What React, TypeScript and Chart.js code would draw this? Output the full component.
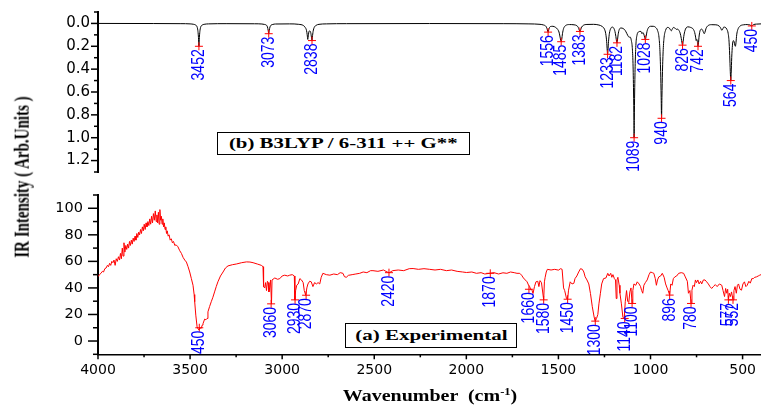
import React, { useEffect, useRef } from "react";
import { Chart, registerables } from "chart.js";

Chart.register(...registerables);

// ---------- DATA ----------
// Calculated (B3LYP) spectrum: [wavenumber, intensity]
const calcSpectrum: [number, number][] = [
  [4000, 0], [3700, 0.001], [3550, 0.002], [3500, 0.004],
  [3480, 0.008], [3470, 0.014], [3462, 0.03], [3458, 0.06], [3455, 0.11], [3453, 0.17], [3452, 0.2], [3451, 0.17], [3449, 0.11], [3446, 0.06], [3442, 0.03], [3434, 0.014], [3424, 0.008], [3400, 0.004],
  [3300, 0.002], [3150, 0.003],
  [3110, 0.005], [3095, 0.009], [3085, 0.016], [3080, 0.03], [3076, 0.06], [3073, 0.09], [3070, 0.06], [3066, 0.03], [3061, 0.016], [3051, 0.009], [3036, 0.005],
  [2960, 0.004], [2910, 0.008],
  [2885, 0.018], [2875, 0.035], [2868, 0.06], [2864, 0.1], [2861, 0.14], [2859, 0.12], [2855, 0.075], [2850, 0.065], [2845, 0.08], [2841, 0.12], [2838, 0.15], [2836, 0.12], [2832, 0.07], [2826, 0.035], [2816, 0.017], [2800, 0.008], [2760, 0.004],
  [2650, 0.002], [2200, 0.001], [1800, 0.002], [1660, 0.004],
  [1600, 0.008], [1580, 0.014], [1568, 0.025], [1562, 0.045], [1558, 0.068], [1556, 0.076], [1554, 0.066], [1550, 0.042], [1543, 0.027], [1530, 0.025],
  [1515, 0.035], [1505, 0.05], [1497, 0.075], [1492, 0.11], [1488, 0.145], [1485, 0.16], [1482, 0.14], [1478, 0.09], [1472, 0.045], [1462, 0.02], [1440, 0.01],
  [1415, 0.012], [1400, 0.02], [1392, 0.035], [1387, 0.057], [1383, 0.07], [1379, 0.055], [1374, 0.033], [1365, 0.017], [1345, 0.009], [1310, 0.008],
  [1280, 0.014], [1262, 0.027], [1250, 0.05], [1243, 0.09], [1238, 0.16], [1235, 0.235], [1233, 0.27], [1231, 0.235], [1228, 0.16], [1223, 0.085], [1216, 0.045], [1208, 0.032],
  [1200, 0.04], [1193, 0.07], [1188, 0.115], [1184, 0.16], [1182, 0.17], [1180, 0.155], [1176, 0.1], [1170, 0.055], [1160, 0.04],
  [1148, 0.045], [1138, 0.06], [1128, 0.09], [1120, 0.115], [1115, 0.12], [1110, 0.12], [1104, 0.15], [1099, 0.21], [1095, 0.35], [1092, 0.6], [1090, 0.85], [1089, 1.0], [1088, 0.85], [1086, 0.6], [1083, 0.35], [1079, 0.18], [1073, 0.1], [1066, 0.075],
  [1058, 0.07], [1052, 0.07], [1046, 0.09], [1042, 0.08], [1037, 0.09], [1032, 0.12], [1028, 0.14], [1024, 0.115], [1019, 0.07], [1012, 0.04], [1000, 0.025],
  [985, 0.025], [972, 0.035], [962, 0.06], [954, 0.12], [949, 0.23], [945, 0.42], [942, 0.65], [940, 0.83], [938, 0.65], [935, 0.42], [931, 0.23], [926, 0.12], [918, 0.06], [908, 0.035],
  [898, 0.04], [892, 0.055], [887, 0.065], [882, 0.05], [875, 0.035], [868, 0.04], [862, 0.05], [858, 0.052], [853, 0.05], [846, 0.06],
  [839, 0.085], [833, 0.13], [829, 0.17], [826, 0.19], [823, 0.16], [818, 0.1], [810, 0.05], [797, 0.03],
  [782, 0.035], [768, 0.05], [760, 0.08], [755, 0.12], [752, 0.15], [749, 0.14], [746, 0.15], [744, 0.185], [742, 0.2], [740, 0.18], [736, 0.11], [730, 0.06], [722, 0.05],
  [716, 0.062], [712, 0.08], [708, 0.09], [704, 0.075], [698, 0.042], [688, 0.02], [670, 0.011], [645, 0.012],
  [628, 0.022], [620, 0.037], [615, 0.055], [612, 0.06], [608, 0.05], [602, 0.032], [594, 0.034],
  [586, 0.05], [578, 0.09], [573, 0.17], [569, 0.32], [566, 0.45], [564, 0.5], [562, 0.44], [559, 0.3], [555, 0.19], [550, 0.15],
  [546, 0.16], [542, 0.19], [539, 0.2], [536, 0.17], [532, 0.1], [526, 0.055], [515, 0.025], [495, 0.012], [475, 0.01],
  [462, 0.012], [455, 0.018], [450, 0.022], [446, 0.017], [440, 0.01], [425, 0.006], [400, 0.004],
];

// Experimental FT-IR spectrum: [wavenumber, intensity]
const expSpectrum: [number, number][] = [
  [4000, 48.5], [3992, 50], [3984, 51], [3976, 52.5], [3970, 52], [3963, 54.5], [3956, 55], [3949, 57], [3943, 56], [3937, 58.5], [3931, 57], [3925, 60], [3919, 59], [3913, 61], [3907, 57], [3901, 62], [3895, 60], [3889, 63.5], [3883, 61], [3878, 66], [3873, 62], [3868, 70], [3864, 64], [3859, 74], [3854, 67], [3849, 72], [3844, 69], [3839, 73], [3834, 70], [3829, 75], [3824, 72], [3819, 76], [3814, 73], [3809, 77.5], [3804, 75], [3799, 79], [3794, 76], [3789, 81], [3784, 78], [3779, 82], [3774, 80], [3769, 84], [3764, 81], [3759, 86], [3754, 83], [3749, 88], [3744, 84], [3739, 89], [3734, 86], [3729, 90], [3724, 87], [3719, 92], [3714, 88], [3709, 94], [3704, 89], [3699, 96], [3694, 91], [3689, 98], [3684, 90], [3680, 95], [3676, 89], [3672, 97], [3668, 88], [3664, 99], [3660, 91], [3656, 94], [3652, 88], [3648, 92], [3644, 86], [3640, 89], [3636, 84], [3632, 86], [3628, 81], [3624, 83], [3619, 79], [3614, 80], [3608, 76], [3602, 77], [3596, 74], [3590, 75], [3583, 72], [3576, 72.5], [3566, 71], [3556, 68], [3547, 66], [3538, 63], [3529, 61], [3520, 59.5], [3511, 56], [3502, 52], [3493, 47], [3484, 42], [3478, 35], [3475, 29.6], [3469, 19.5], [3462, 10.7], [3456, 9], [3452, 8.5], [3447, 10], [3440, 9.5], [3434, 12], [3430, 13], [3421, 16.5], [3414, 16], [3408, 17], [3403, 22], [3394, 26], [3385, 29.6], [3376, 33], [3367, 37], [3358, 41], [3349, 44.6], [3335, 49], [3321, 52], [3308, 55], [3294, 56.6], [3270, 57.5], [3249, 58], [3220, 59], [3194, 59.6], [3175, 59.5], [3158, 59], [3135, 58], [3113, 57], [3104, 56],
  [3101, 41], [3095, 40], [3090, 44], [3085, 38], [3080, 45], [3076, 44], [3072, 37], [3068, 40], [3063, 46], [3058, 28], [3055, 46], [3050, 46], [3040, 47.5], [3025, 46.5], [3013, 47], [3000, 49], [2986, 49.6], [2970, 49], [2959, 49.6], [2945, 50], [2934, 49],
  [2931, 31], [2927, 38], [2921, 42], [2913, 43], [2904, 47], [2895, 46], [2886, 44], [2880, 38], [2872, 34.5], [2866, 40], [2860, 43], [2851, 45], [2842, 44.6], [2833, 41], [2824, 44], [2814, 43], [2805, 44], [2796, 43], [2788, 48], [2779, 51],
  [2760, 50], [2741, 49.6], [2720, 50.5], [2700, 50], [2685, 51.5], [2670, 51], [2662, 48.5], [2652, 48], [2640, 49.5], [2620, 50], [2600, 50.5], [2579, 51], [2560, 52], [2540, 51.5], [2520, 53], [2507, 53], [2480, 52.5], [2450, 53.5], [2430, 52], [2418, 51.5], [2400, 53], [2370, 53.5], [2340, 53], [2310, 54.5], [2289, 54.6], [2260, 54], [2230, 54.5], [2199, 54], [2170, 53.5], [2140, 54], [2108, 53], [2080, 53.5], [2050, 52.5], [2020, 52], [1999, 51.6], [1970, 52], [1945, 51], [1920, 51.5], [1900, 50.5], [1874, 51], [1850, 51.5], [1825, 50.5], [1801, 51.4], [1780, 51], [1760, 52], [1740, 51.5], [1725, 51], [1710, 51],
  [1700, 49.6], [1690, 47.5], [1680, 46], [1670, 44.6], [1662, 42], [1656, 41], [1650, 38.5], [1645, 39], [1638, 35.8], [1630, 41], [1622, 44.6], [1612, 45], [1606, 41], [1600, 45.5], [1592, 44], [1580, 31], [1576, 44.6], [1572, 48], [1566, 52], [1560, 54],
  [1540, 53.5], [1520, 54], [1500, 53.4], [1488, 54.5], [1480, 54], [1472, 40], [1466, 38], [1456, 32], [1450, 31.5], [1445, 38.3], [1436, 44.6], [1426, 43], [1416, 43.5], [1410, 47], [1400, 49], [1390, 52], [1380, 54.5], [1370, 54], [1362, 52], [1355, 48.4], [1345, 46], [1335, 43], [1326, 35.8], [1316, 25.8], [1306, 18], [1300, 15], [1293, 17], [1286, 20], [1280, 28], [1272, 36], [1265, 43], [1255, 47], [1242, 47.5], [1232, 51], [1225, 49], [1216, 51], [1210, 48], [1204, 50], [1196, 47], [1190, 46], [1186, 32], [1182, 46], [1177, 48], [1170, 42], [1166, 36], [1158, 28], [1150, 18], [1143, 17], [1137, 29.6], [1130, 38], [1124, 30], [1118, 29], [1112, 37], [1106, 40], [1100, 28.3], [1096, 38], [1090, 43], [1080, 42], [1072, 44.6], [1062, 43], [1054, 41], [1048, 38], [1042, 36], [1036, 42], [1028, 44], [1018, 46], [1008, 50], [1000, 52],
  [990, 51.5], [982, 51], [974, 47], [968, 42], [962, 46], [955, 48.3], [945, 49], [936, 51], [926, 48], [918, 43], [910, 40], [904, 38], [896, 34.6], [890, 43], [883, 42], [876, 47], [868, 48.3], [858, 49], [847, 51], [833, 51.5], [820, 51], [811, 48.3], [800, 45], [794, 36], [786, 38], [780, 28.3], [775, 38.3], [769, 42], [762, 41], [756, 46], [750, 44], [743, 46], [736, 43], [728, 45], [722, 43], [713, 46], [704, 46], [695, 44.6], [686, 43], [677, 41], [668, 39.6], [659, 41], [648, 42.5], [638, 41], [626, 43], [613, 42], [606, 38], [598, 33.5], [592, 39.6], [586, 36], [581, 39], [577, 31], [572, 36], [566, 33.5], [560, 37], [552, 31], [547, 38], [541, 41], [534, 36], [528, 42], [522, 43], [514, 39], [506, 38.3], [498, 43], [490, 44.6], [482, 41], [475, 42], [466, 45], [458, 43.6], [450, 47], [442, 47], [434, 48], [425, 48.3], [415, 49], [407, 49.6], [400, 50],
];

// Peak annotations: [wavenumber, intensity at marker]
const calcPeaks: [number, number][] = [
  [3452, 0.2], [3073, 0.09], [2838, 0.15], [1556, 0.076], [1485, 0.16], [1383, 0.07], [1233, 0.27], [1182, 0.17],
  [1089, 1.0], [1028, 0.14], [940, 0.83], [826, 0.19], [742, 0.2], [564, 0.5], [450, 0.022],
];
const expPeaks: [number, number][] = [
  [3450, 10], [3060, 28], [2930, 31], [2870, 34.5], [2420, 51.5], [1870, 51], [1660, 39], [1580, 31], [1450, 31.5],
  [1300, 15], [1140, 17], [1100, 28.3], [896, 34.6], [780, 28.3], [577, 31], [552, 31],
];

// Axis ticks
const xMajorTicks = [4000, 3500, 3000, 2500, 2000, 1500, 1000, 500];
const xMinorTicks = [3750, 3250, 2750, 2250, 1750, 1250, 750];
const calcMajorTicks = [0, 0.2, 0.4, 0.6, 0.8, 1.0, 1.2];
const calcMinorTicks = [-0.1, 0.1, 0.3, 0.5, 0.7, 0.9, 1.1, 1.3];
const expMajorTicks = [0, 20, 40, 60, 80, 100];
const expMinorTicks = [-10, 10, 30, 50, 70, 90, 110];

// ---------- PLUGINS ----------
type TickSpec = { values: number[]; len: number };

function makeTickPlugin(id: string, ySpecs: TickSpec[], xSpecs: TickSpec[]) {
  return {
    id,
    afterDraw(chart: any) {
      const { ctx, chartArea } = chart;
      ctx.save();
      ctx.strokeStyle = "#000";
      ctx.lineWidth = 1.5;
      const ys = chart.scales.y;
      for (const spec of ySpecs) {
        for (const v of spec.values) {
          const py = ys.getPixelForValue(v);
          ctx.beginPath();
          ctx.moveTo(chartArea.left, py);
          ctx.lineTo(chartArea.left - spec.len, py);
          ctx.stroke();
        }
      }
      const xs = chart.scales.x;
      for (const spec of xSpecs) {
        for (const v of spec.values) {
          const px = xs.getPixelForValue(v);
          ctx.beginPath();
          ctx.moveTo(px, chartArea.bottom);
          ctx.lineTo(px, chartArea.bottom + spec.len);
          ctx.stroke();
        }
      }
      ctx.restore();
    },
  };
}

function makePeakPlugin(id: string, items: [number, number][]) {
  return {
    id,
    afterDatasetsDraw(chart: any) {
      const { ctx, chartArea: a } = chart;
      const xs = chart.scales.x;
      const ys = chart.scales.y;
      ctx.save();
      ctx.beginPath();
      ctx.rect(a.left, a.top, a.right - a.left, a.bottom - a.top);
      ctx.clip();
      for (const [w, v] of items) {
        const px = xs.getPixelForValue(w);
        const py = ys.getPixelForValue(v);
        ctx.strokeStyle = "#ff0000";
        ctx.lineWidth = 1;
        ctx.beginPath();
        ctx.moveTo(px - 4, py);
        ctx.lineTo(px + 4, py);
        ctx.moveTo(px, py - 4);
        ctx.lineTo(px, py + 4);
        ctx.stroke();
        ctx.save();
        ctx.translate(px, py + 3);
        ctx.rotate(-Math.PI / 2);
        ctx.scale(1, 1.3);
        ctx.font = '14px "Liberation Sans", Arial, sans-serif';
        ctx.fillStyle = "#0000ff";
        ctx.textAlign = "right";
        ctx.textBaseline = "middle";
        ctx.fillText(String(w), 0, 0);
        ctx.restore();
      }
      ctx.restore();
    },
  };
}

const fitY = (s: any) => {
  s.width = 98;
  s.paddingTop = 0;
  s.paddingBottom = 0;
};

// ---------- COMPONENT ----------
export default function App() {
  const topRef = useRef<HTMLCanvasElement>(null);
  const botRef = useRef<HTMLCanvasElement>(null);

  useEffect(() => {
    document.body.style.margin = "0";
    if (!topRef.current || !botRef.current) return;

    const topChart = new Chart(topRef.current, {
      type: "line",
      data: {
        datasets: [
          {
            data: calcSpectrum.map(([x, y]) => ({ x, y })),
            borderColor: "#000000",
            borderWidth: 1,
            pointRadius: 0,
            fill: false,
            cubicInterpolationMode: "monotone",
          },
        ],
      },
      options: {
        animation: false,
        responsive: false,
        events: [],
        layout: { padding: { top: 12, bottom: 8, left: 0, right: 0 } },
        plugins: { legend: { display: false }, tooltip: { enabled: false } },
        scales: {
          x: { type: "linear", position: "bottom", min: 400, max: 4000, reverse: true, display: false },
          y: {
            type: "linear",
            position: "left",
            min: -0.1,
            max: 1.3,
            reverse: true,
            afterFit: fitY,
            afterBuildTicks: (s: any) => {
              s.ticks = calcMajorTicks.map((v) => ({ value: v }));
            },
            ticks: {
              color: "#000",
              padding: 8,
              font: { family: "DejaVu Sans", size: 15 },
              callback: (v: any) => Number(v).toFixed(1),
            },
            grid: { display: false, drawTicks: false, tickLength: 0 },
            border: { display: true, color: "#000", width: 2 },
          },
        },
      },
      plugins: [
        makeTickPlugin("topTicks", [{ values: calcMajorTicks, len: 7 }, { values: calcMinorTicks, len: 4 }], []),
        makePeakPlugin("topPeaks", calcPeaks),
      ],
    } as any);

    const botChart = new Chart(botRef.current, {
      type: "line",
      data: {
        datasets: [
          {
            data: expSpectrum.map(([x, y]) => ({ x, y })),
            borderColor: "#ff0000",
            borderWidth: 1,
            pointRadius: 0,
            fill: false,
            tension: 0,
          },
        ],
      },
      options: {
        animation: false,
        responsive: false,
        events: [],
        layout: { padding: { top: 15, bottom: 0, left: 0, right: 0 } },
        plugins: { legend: { display: false }, tooltip: { enabled: false } },
        scales: {
          x: {
            type: "linear",
            position: "bottom",
            min: 400,
            max: 4000,
            reverse: true,
            afterFit: (s: any) => {
              s.height = 50.7;
              s.paddingLeft = 0;
              s.paddingRight = 0;
            },
            afterBuildTicks: (s: any) => {
              s.ticks = xMajorTicks.map((v) => ({ value: v }));
            },
            ticks: {
              color: "#000",
              padding: 8,
              autoSkip: false,
              maxRotation: 0,
              font: { family: "DejaVu Sans", size: 14 },
              callback: (v: any) => String(v),
            },
            grid: { display: false, drawTicks: false, tickLength: 0 },
            border: { display: true, color: "#000", width: 1.5 },
          },
          y: {
            type: "linear",
            position: "left",
            min: -10,
            max: 110,
            afterFit: fitY,
            afterBuildTicks: (s: any) => {
              s.ticks = expMajorTicks.map((v) => ({ value: v }));
            },
            ticks: {
              color: "#000",
              padding: 15,
              font: { family: "DejaVu Sans", size: 14.5 },
              callback: (v: any) => String(v),
            },
            grid: { display: false, drawTicks: false, tickLength: 0 },
            border: { display: true, color: "#000", width: 2 },
          },
        },
      },
      plugins: [
        makeTickPlugin(
          "botTicks",
          [{ values: expMajorTicks, len: 10 }, { values: expMinorTicks, len: 5 }],
          [{ values: xMajorTicks, len: 5 }, { values: xMinorTicks, len: 3 }]
        ),
        makePeakPlugin("botPeaks", expPeaks),
      ],
    } as any);

    return () => {
      topChart.destroy();
      botChart.destroy();
    };
  }, []);

  const serif = '"Liberation Serif", "Times New Roman", serif';

  return (
    <div style={{ position: "relative", width: 761, height: 405, background: "#fff", overflow: "hidden" }}>
      <canvas ref={topRef} width={761} height={180} style={{ position: "absolute", left: 0, top: 0 }} />
      <canvas ref={botRef} width={761} height={225} style={{ position: "absolute", left: 0, top: 180 }} />

      {/* panel label (b) */}
      <div
        style={{
          position: "absolute", left: 217, top: 132, width: 253, height: 23, boxSizing: "border-box",
          border: "1px solid #000", background: "#fff", display: "flex", alignItems: "center", justifyContent: "center",
        }}
      >
        <span style={{ font: `bold 15px ${serif}`, whiteSpace: "pre", display: "inline-block", transform: "scaleX(1.39)" }}>
          (b) B3LYP / 6-311 ++ G**
        </span>
      </div>

      {/* panel label (a) */}
      <div
        style={{
          position: "absolute", left: 345, top: 323, width: 172, height: 25, boxSizing: "border-box",
          border: "1px solid #000", background: "#fff", display: "flex", alignItems: "center", justifyContent: "center",
        }}
      >
        <span style={{ font: `bold 15px ${serif}`, whiteSpace: "pre", display: "inline-block", transform: "scaleX(1.4)" }}>
          (a) Experimental
        </span>
      </div>

      {/* y axis title */}
      <div
        style={{
          position: "absolute", left: 22, top: 177, font: `bold 15px ${serif}`, whiteSpace: "pre", lineHeight: "1",
          transform: "translate(-50%, -50%) rotate(-90deg) scaleY(1.45)",
        }}
      >
        IR Intensity ( Arb.Units )
      </div>

      {/* x axis title */}
      <div
        style={{
          position: "absolute", left: 430, top: 396, font: `bold 16px ${serif}`, whiteSpace: "pre", lineHeight: "1",
          transform: "translate(-50%, -50%) scaleX(1.25)",
        }}
      >
        Wavenumber  (cm<sup style={{ fontSize: "10px", verticalAlign: "6px", lineHeight: 0 }}>-1</sup>)
      </div>
    </div>
  );
}
